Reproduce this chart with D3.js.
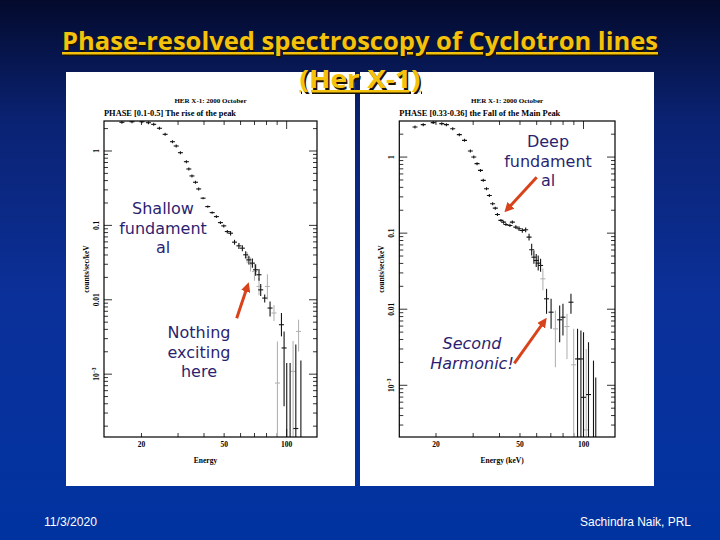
<!DOCTYPE html>
<html>
<head>
<meta charset="utf-8">
<script src="https://cdn.jsdelivr.net/npm/d3@7"></script>
<style>
  body { margin: 0; background: #000; }
</style>
</head>
<body>
<div id="chart"></div>
<script>
// Her X-1 spectra: energy (keV), counts/sec/keV, error bar low / high
var leftE  = [16.1,18.0,20.1,21.6,22.9,24.4,26.0,28.2,29.4,30.8,32.9,33.8,35.0,36.4,37.7,39.6,41.7,43.8,45.9,48.0,
              49.8,51.8,53.7,56.1,58.9,61.2,63.5,65.8,68.4,70.9,73.6,75.0,78.4,83.2,94.4,97.2,100.1,103.9,110.7,117.1];
var leftF  = [2.43,2.47,2.47,2.40,2.28,2.02,1.675,1.333,1.167,0.949,0.718,0.573,0.462,0.380,0.309,0.232,0.179,0.1485,0.1313,0.109,
              0.0985,0.0826,0.0785,0.0595,0.0531,0.0494,0.0402,0.0344,0.0311,0.0253,0.0217,0.0136,0.01054,0.00774,0.00462,0.00225,0.0001,0.0001,0.000186,0.0001];
var leftLo = [null,null,null,null,null,null,null,null,null,null,null,null,null,null,null,0.225,0.173,0.143,0.126,0.104,
              0.094,0.078,0.073,0.055,0.048,0.045,0.036,0.030,0.027,0.021,0.018,0.0112,0.0092,0.00597,0.00322,0.00037,1e-6,1e-6,1e-6,1e-6];
var leftHi = [null,null,null,null,null,null,null,null,null,null,null,null,null,null,null,0.239,0.185,0.154,0.137,0.114,
              0.103,0.087,0.084,0.064,0.058,0.054,0.045,0.039,0.036,0.030,0.026,0.0163,0.0118,0.0095,0.00664,0.00375,0.00141,0.00141,0.0025,0.00153];

var leftGreyE  = [64.5,67.0,70.0,73.6,80.8,86.9,90.3,107.4,114.1];
var leftGreyF  = [0.037,0.030,0.024,0.0151,0.0151,0.00664,0.00076,0.00109,0.00375];
var leftGreyLo = [0.031,0.024,0.018,0.0115,0.0101,0.0052,1e-6,1e-6,0.00202];
var leftGreyHi = [0.044,0.037,0.031,0.0195,0.022,0.0085,0.00275,0.0028,0.0054];

var rightE  = [15.9,17.4,19.4,21.3,22.4,24.0,25.8,27.3,29.1,30.2,31.3,32.5,33.5,34.7,35.8,37.1,38.2,39.1,40.6,41.8,
               42.9,44.8,46.0,47.8,49.5,51.3,53.2,55.2,56.8,58.2,59.7,61.0,62.6,66.8,70.2,77.1,79.9,87.2,93.7,97.2,100.0,105.6,111.5,114.3];
var rightF  = [2.48,2.67,2.84,2.75,2.67,2.36,1.97,1.66,1.20,1.00,0.819,0.668,0.494,0.384,0.313,0.2436,0.213,0.176,0.147,0.1396,
               0.1301,0.1263,0.1396,0.1199,0.1143,0.1085,0.1109,0.0886,0.0605,0.0483,0.0437,0.0403,0.0376,0.0137,0.00914,0.00726,0.00785,0.01236,0.00222,0.00222,0.000695,0.000755,0.0001,0.0001];
var rightLo = [null,null,null,null,null,null,null,null,null,null,null,null,null,null,null,null,null,null,0.141,0.133,
               0.124,0.120,0.133,0.113,0.107,0.101,0.103,0.080,0.0508,0.0395,0.036,0.0322,0.031,0.0087,0.00552,0.00368,0.00451,0.0087,1e-6,1e-6,1e-6,1e-6,1e-6,1e-6];
var rightHi = [null,null,null,null,null,null,null,null,null,null,null,null,null,null,null,null,null,null,0.153,0.146,
               0.136,0.133,0.147,0.127,0.122,0.116,0.119,0.098,0.0723,0.0591,0.053,0.0508,0.046,0.01855,0.0137,0.0112,0.0118,0.0160,0.00552,0.00525,0.00498,0.00368,0.00211,0.00127];

var rightGreyE  = [64.2,73.6,83.5,89.8,103.0];
var rightGreyF  = [0.0251,0.00552,0.00592,0.00186,0.000259];
var rightGreyLo = [0.0177,0.00173,0.00222,1e-6,1e-6];
var rightGreyHi = [0.0342,0.0096,0.0087,0.00552,0.003];

var xTickValues = [20,30,40,50,60,70,80,90,100];
var xTickLabels = [20,50,100];
var yLabelValues = [1,0.1,0.01,0.001];

var W = 720, H = 540;
var svg = d3.select("#chart").append("svg").attr("width", W).attr("height", H);
var defs = svg.append("defs");

/* slide background */
var grad = defs.append("linearGradient").attr("id", "bg").attr("x1", 0).attr("y1", 0).attr("x2", 0).attr("y2", 1);
grad.append("stop").attr("offset", "0%").attr("stop-color", "#030a2c");
grad.append("stop").attr("offset", "22%").attr("stop-color", "#0a2272");
grad.append("stop").attr("offset", "55%").attr("stop-color", "#0b3099");
grad.append("stop").attr("offset", "100%").attr("stop-color", "#0033a0");
svg.append("rect").attr("width", W).attr("height", H).attr("fill", "url(#bg)");

var panels = [
    {id: "l", box: [66, 72, 355, 486], frame: [104, 121, 317, 437], xDomain: [13.2, 140], yDomain: [1.43e-4, 2.53],
     title: "HER X-1: 2000 October", phase: "PHASE [0.1-0.5] The rise of the peak", phaseLen: 132, xLabel: "Energy",
     black: {e: leftE, f: leftF, lo: leftLo, hi: leftHi},
     grey: {e: leftGreyE, f: leftGreyF, lo: leftGreyLo, hi: leftGreyHi}},
    {id: "r", box: [360, 72, 654, 486], frame: [399.3, 121, 615, 437], xDomain: [13.4, 141], yDomain: [2.09e-4, 2.98],
     title: "HER X-1: 2000 October", phase: "PHASE [0.33-0.36] the Fall of the Main Peak", phaseLen: 161, xLabel: "Energy (keV)",
     black: {e: rightE, f: rightF, lo: rightLo, hi: rightHi},
     grey: {e: rightGreyE, f: rightGreyF, lo: rightGreyLo, hi: rightGreyHi}}
];

var serif = "'Liberation Serif', 'DejaVu Serif', serif";

panels.forEach(function(p) {
    var b = p.box, fr = p.frame;
    svg.append("rect").attr("x", b[0]).attr("y", b[1]).attr("width", b[2] - b[0]).attr("height", b[3] - b[1]).attr("fill", "#fff");

    var x = d3.scaleLog().domain(p.xDomain).range([fr[0], fr[2]]);
    var y = d3.scaleLog().domain(p.yDomain).range([fr[3], fr[1]]);
    var g = svg.append("g");

    defs.append("clipPath").attr("id", "clip-" + p.id)
        .append("rect").attr("x", fr[0]).attr("y", fr[1]).attr("width", fr[2] - fr[0]).attr("height", fr[3] - fr[1]);

    // ticks on all four sides, pointing in
    xTickValues.forEach(function(v) {
        var len = v === 100 ? 8 : 4;
        g.append("line").attr("x1", x(v)).attr("x2", x(v)).attr("y1", fr[3]).attr("y2", fr[3] - len).attr("stroke", "#000").attr("stroke-width", 0.8);
        g.append("line").attr("x1", x(v)).attr("x2", x(v)).attr("y1", fr[1]).attr("y2", fr[1] + len).attr("stroke", "#000").attr("stroke-width", 0.8);
    });
    var yd = p.yDomain;
    d3.range(-4, 1).forEach(function(k) {
        d3.range(1, 10).forEach(function(m) {
            var v = m * Math.pow(10, k);
            if (v < yd[0] || v > yd[1]) return;
            var len = m === 1 ? 8 : 4;
            g.append("line").attr("x1", fr[0]).attr("x2", fr[0] + len).attr("y1", y(v)).attr("y2", y(v)).attr("stroke", "#000").attr("stroke-width", 0.8);
            g.append("line").attr("x1", fr[2]).attr("x2", fr[2] - len).attr("y1", y(v)).attr("y2", y(v)).attr("stroke", "#000").attr("stroke-width", 0.8);
        });
    });

    // x tick labels
    xTickLabels.forEach(function(v) {
        g.append("text").attr("x", x(v)).attr("y", fr[3] + 10).attr("text-anchor", "middle")
            .attr("font-family", serif).attr("font-weight", "bold").attr("font-size", 7.5).text(v);
    });
    // y tick labels, rotated
    yLabelValues.forEach(function(v) {
        var t = g.append("text").attr("transform", "translate(" + (fr[0] - 5) + "," + y(v) + ") rotate(-90)")
            .attr("text-anchor", "middle").attr("font-family", serif).attr("font-weight", "bold").attr("font-size", 7.5);
        if (v === 0.001) {
            t.append("tspan").text("10");
            t.append("tspan").attr("dy", -3).attr("font-size", 5.5).text("\u22123");
        } else {
            t.text(v);
        }
    });

    g.append("text").attr("transform", "translate(" + (fr[0] - 15) + "," + ((fr[1] + fr[3]) / 2 - 10) + ") rotate(-90)")
        .attr("text-anchor", "middle").attr("font-family", serif).attr("font-weight", "bold").attr("font-size", 7.5)
        .text("counts/sec/keV");
    g.append("text").attr("x", (fr[0] + fr[2]) / 2 - 5).attr("y", fr[3] + 26).attr("text-anchor", "middle")
        .attr("font-family", serif).attr("font-weight", "bold").attr("font-size", 7.5).text(p.xLabel);
    g.append("text").attr("x", (fr[0] + fr[2]) / 2).attr("y", 103).attr("text-anchor", "middle")
        .attr("font-family", serif).attr("font-weight", "bold").attr("font-size", 7).text(p.title);
    g.append("text").attr("x", fr[0]).attr("y", 116).attr("textLength", p.phaseLen).attr("lengthAdjust", "spacingAndGlyphs")
        .attr("font-family", serif).attr("font-weight", "bold").attr("font-size", 7.5).text(p.phase);

    // data points: bin bar + error bar
    var pts = g.append("g").attr("clip-path", "url(#clip-" + p.id + ")");
    function drawSeries(s, color) {
        s.e.forEach(function(e, i) {
            var cx = x(e), cy = y(s.f[i]);
            pts.append("line").attr("x1", cx - 2.5).attr("x2", cx + 2.5).attr("y1", cy).attr("y2", cy)
                .attr("stroke", color).attr("stroke-width", 1.1);
            var y1 = s.hi[i] === null ? cy - 1.5 : y(s.hi[i]);
            var y2 = s.lo[i] === null ? cy + 1.5 : y(s.lo[i]);
            pts.append("line").attr("x1", cx).attr("x2", cx).attr("y1", y1).attr("y2", y2)
                .attr("stroke", color).attr("stroke-width", 1.1);
        });
    }
    drawSeries(p.grey, "#b4b4b4");
    drawSeries(p.black, "#151515");

    g.append("rect").attr("x", fr[0]).attr("y", fr[1]).attr("width", fr[2] - fr[0]).attr("height", fr[3] - fr[1])
        .attr("fill", "none").attr("stroke", "#000").attr("stroke-width", 1.2);
});

/* title */
var titleFont = "'Open Sans', 'DejaVu Sans', sans-serif";
[[360, 50, "Phase-resolved spectroscopy of Cyclotron lines", 596], [360, 88, "(Her X-1)", 121]].forEach(function(t) {
    [["#1a1200", 1.5], ["#f4c20d", 0]].forEach(function(s) {
        svg.append("text").attr("x", t[0] + s[1]).attr("y", t[1] + s[1]).attr("text-anchor", "middle")
            .attr("textLength", t[3]).attr("lengthAdjust", "spacingAndGlyphs")
            .attr("font-family", titleFont).attr("font-weight", "bold").attr("font-size", 25)
            .attr("text-decoration", "underline").attr("fill", s[0]).text(t[2]);
    });
});

/* annotations */
var noteColor = "#2c1f70";
var notes = [
    {x: 163, y: 214, lines: ["Shallow", "fundament", "al"], italic: false},
    {x: 199, y: 338, lines: ["Nothing", "exciting", "here"], italic: false},
    {x: 548, y: 147, lines: ["Deep", "fundament", "al"], italic: false},
    {x: 472, y: 349, lines: ["Second", "Harmonic!"], italic: true}
];
notes.forEach(function(n) {
    n.lines.forEach(function(l, i) {
        svg.append("text").attr("x", n.x).attr("y", n.y + i * 19.5).attr("text-anchor", "middle")
            .attr("font-family", "'DejaVu Sans', Verdana, sans-serif").attr("font-size", 16)
            .attr("font-style", n.italic ? "italic" : "normal").attr("fill", noteColor).text(l);
    });
});

defs.append("marker").attr("id", "head").attr("viewBox", "0 0 10 10").attr("refX", 6).attr("refY", 5)
    .attr("markerWidth", 3.2).attr("markerHeight", 3.2).attr("orient", "auto")
    .append("path").attr("d", "M0,0 L10,5 L0,10 Z").attr("fill", "#d8431c");
[[236.7, 318.3, 247.5, 286], [536.7, 177.3, 507, 209.5], [514.3, 363.3, 544.5, 321]].forEach(function(a) {
    svg.append("line").attr("x1", a[0]).attr("y1", a[1]).attr("x2", a[2]).attr("y2", a[3])
        .attr("stroke", "#d8431c").attr("stroke-width", 3).attr("marker-end", "url(#head)");
});

/* footer */
svg.append("text").attr("x", 44).attr("y", 526).attr("font-family", "'Liberation Sans', Arial, sans-serif")
    .attr("font-size", 12).attr("fill", "#fff").attr("textLength", 53).attr("lengthAdjust", "spacingAndGlyphs").text("11/3/2020");
svg.append("text").attr("x", 580).attr("y", 526).attr("font-family", "'Liberation Sans', Arial, sans-serif")
    .attr("font-size", 12).attr("fill", "#fff").attr("textLength", 111).attr("lengthAdjust", "spacingAndGlyphs").text("Sachindra Naik, PRL");
</script>
</body>
</html>
